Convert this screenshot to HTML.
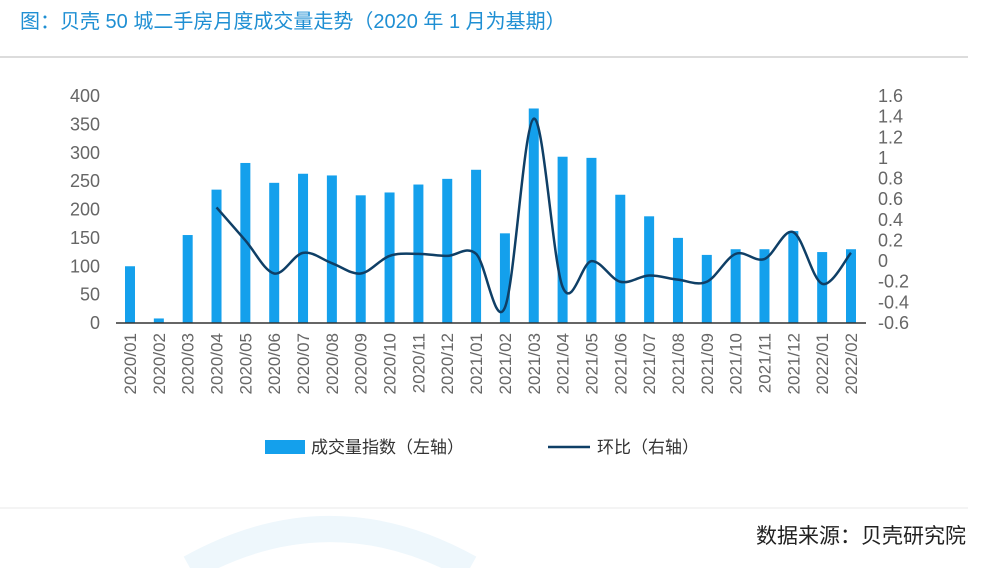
<!DOCTYPE html>
<html><head><meta charset="utf-8"><style>
body{margin:0;width:984px;height:568px;background:#fff;overflow:hidden;font-family:"Liberation Sans","Noto Sans CJK SC",sans-serif;}
</style></head><body>
<svg width="984" height="568" style="position:absolute;left:0;top:0">
<path d="M190 568 Q 330 490 470 568" fill="none" stroke="#eef7fc" stroke-width="26"/>
<text x="20" y="28" font-size="20" fill="#1f8fd3">图：贝壳 50 城二手房月度成交量走势（2020 年 1 月为基期）</text>
<line x1="0" y1="57" x2="968" y2="57" stroke="#d0d0d0" stroke-width="1.5"/>
<line x1="0" y1="508" x2="968" y2="508" stroke="#e8e8e8" stroke-width="1"/>
<text x="966" y="543" font-size="21" fill="#222" text-anchor="end">数据来源：贝壳研究院</text>
<g id="plot"></g>
<g>
<rect x="265" y="440" width="40" height="14" fill="#14a0ec"/>
<text x="311" y="453" font-size="17" fill="#333">成交量指数（左轴）</text>
<line x1="548" y1="447" x2="590" y2="447" stroke="#0f3f66" stroke-width="2.5"/>
<text x="597" y="453" font-size="17" fill="#333">环比（右轴）</text>
</g>
</svg>
<script>
const categories=["2020/01","2020/02","2020/03","2020/04","2020/05","2020/06","2020/07","2020/08","2020/09","2020/10","2020/11","2020/12","2021/01","2021/02","2021/03","2021/04","2021/05","2021/06","2021/07","2021/08","2021/09","2021/10","2021/11","2021/12","2022/01","2022/02"];
const volumeIndex=[100,8,155,235,282,247,263,260,225,230,244,254,270,158,378,293,291,226,188,150,120,130,130,162,125,130];
const momChange=[null,null,null,0.52,0.2,-0.12,0.08,-0.02,-0.12,0.05,0.07,0.05,0.07,-0.45,1.38,-0.25,0.0,-0.2,-0.14,-0.18,-0.2,0.07,0.02,0.28,-0.22,0.08];
const leftTicks=[0,50,100,150,200,250,300,350,400];
const rightTicks=[-0.6,-0.4,-0.2,0,0.2,0.4,0.6,0.8,1,1.2,1.4,1.6];
(function(){
const NS="http://www.w3.org/2000/svg";
const g=document.getElementById('plot');
const pTop=96,pBot=323,x0=130,x1=851;
const yL=v=>pBot-(v/400)*(pBot-pTop);
const yR=v=>pBot-((v+0.6)/2.2)*(pBot-pTop);
const xC=i=>x0+i*(x1-x0)/(categories.length-1);
function mk(t,a){const e=document.createElementNS(NS,t);for(const k in a)e.setAttribute(k,a[k]);g.appendChild(e);return e;}
leftTicks.forEach(v=>{const e=mk('text',{x:100,y:yL(v)+6,'font-size':18,fill:'#666','text-anchor':'end'});e.textContent=v;

});
rightTicks.forEach(v=>{const e=mk('text',{x:878,y:yR(v)+6,'font-size':18,fill:'#666'});e.textContent=String(v);

});
volumeIndex.forEach((v,i)=>{const r=mk('rect',{x:xC(i)-5,y:yL(v),width:10,height:pBot-yL(v),fill:'#14a0ec'});

});
const ax=mk('line',{x1:116,y1:pBot,x2:866,y2:pBot,stroke:'#333','stroke-width':1.5});


categories.forEach((c,i)=>{const t=mk('text',{x:0,y:0,'font-size':17,fill:'#666','text-anchor':'end',transform:`translate(${xC(i)+6},333) rotate(-90)`});t.textContent=c;

});
const pts=[];momChange.forEach((v,i)=>{if(v!==null)pts.push([xC(i),yR(v)]);});
let d=`M${pts[0][0]},${pts[0][1]}`;
for(let i=0;i<pts.length-1;i++){const p0=pts[i-1]||pts[i],p1=pts[i],p2=pts[i+1],p3=pts[i+2]||p2;
d+=` C${p1[0]+(p2[0]-p0[0])/6},${p1[1]+(p2[1]-p0[1])/6} ${p2[0]-(p3[0]-p1[0])/6},${p2[1]-(p3[1]-p1[1])/6} ${p2[0]},${p2[1]}`;}
const ln=mk('path',{d:d,fill:'none',stroke:'#0f3f66','stroke-width':2.5});


})();
</script>
</body></html>
